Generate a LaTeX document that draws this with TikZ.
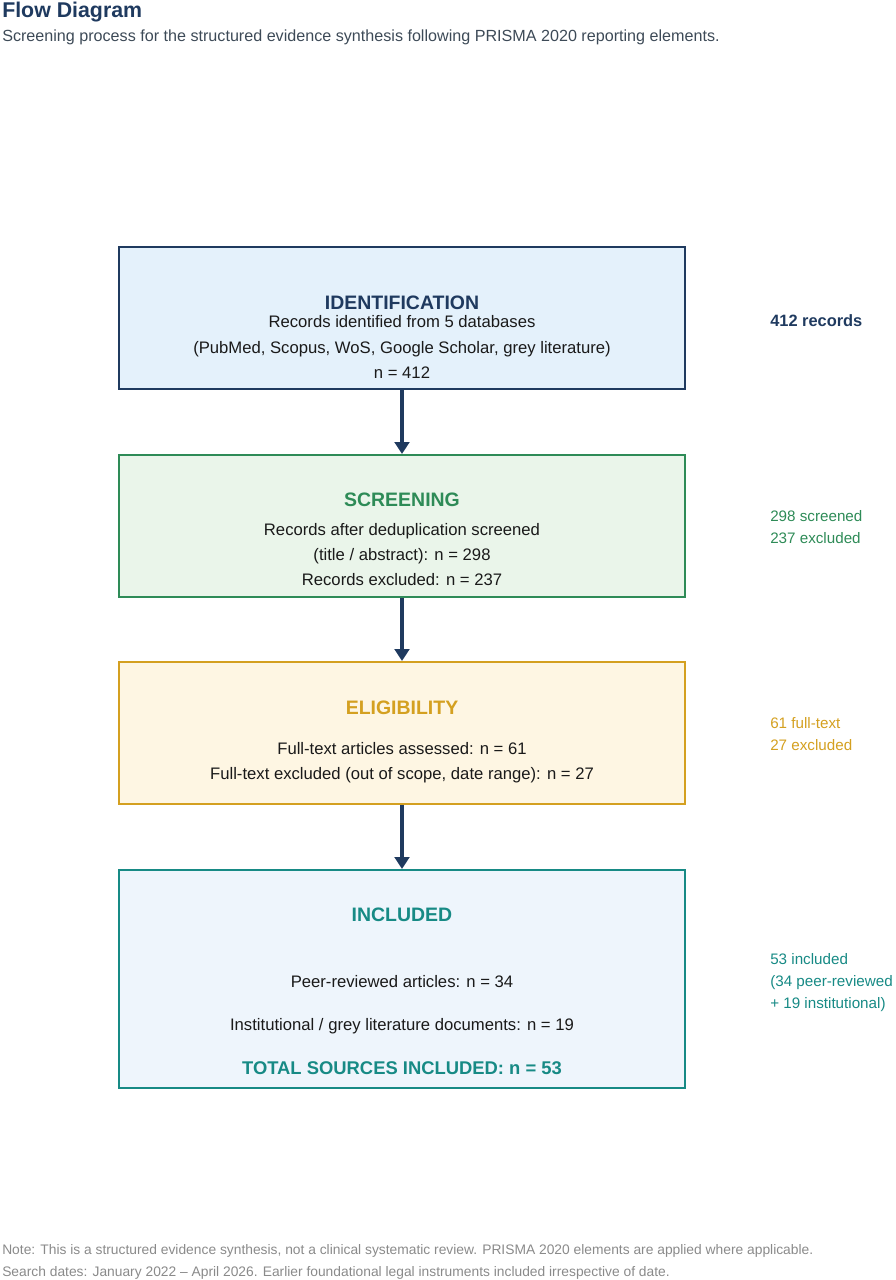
\documentclass[tikz,border=0pt]{standalone}
\usepackage{fontspec}
\setmainfont{Liberation Sans}
\usetikzlibrary{arrows.meta}
\definecolor{navy}{HTML}{1F3A5F}
\definecolor{identfill}{HTML}{E4F1FB}
\definecolor{screengreen}{HTML}{2E8B57}
\definecolor{screenfill}{HTML}{EAF5EA}
\definecolor{eliggold}{HTML}{D4A020}
\definecolor{eligfill}{HTML}{FEF6E3}
\definecolor{inclteal}{HTML}{178A85}
\definecolor{inclfill}{HTML}{EEF5FC}
\definecolor{bodytext}{HTML}{1A1A1A}
\definecolor{subtext}{HTML}{3D4A57}
\definecolor{notetext}{HTML}{8A8A8A}
\begin{document}
\begin{tikzpicture}[x=0.75pt,y=-0.75pt,
    stagebox/.style={draw, line width=1.5pt, minimum width=424.5pt, minimum height=106.5pt, inner sep=0pt},
    head/.style={anchor=base, inner sep=0pt, font=\fontsize{14.6}{17}\selectfont\bfseries},
    body/.style={anchor=base, inner sep=0pt, text=bodytext, font=\fontsize{12.5}{15}\selectfont},
    side/.style={anchor=base west, inner sep=0pt, font=\fontsize{11.4}{14}\selectfont},
    note/.style={anchor=base west, inner sep=0pt, text=notetext, font=\fontsize{10.36}{12}\selectfont},
    flow/.style={draw=navy, line width=2.7pt, -{Triangle[width=11pt,length=9pt]}}]
    \useasboundingbox (0,0) rectangle (895,1280);

    % title
    \node[anchor=base west, inner sep=0pt, text=navy, font=\fontsize{16}{19}\selectfont\bfseries] (title) at (2,18) {Flow Diagram};
    \node[anchor=base west, inner sep=0pt, text=subtext, font=\fontsize{12.1}{14}\selectfont] (subtitle) at (2,42) {Screening process for the structured evidence synthesis following PRISMA 2020 reporting elements.};

    % stages
    \node[stagebox, draw=navy, fill=identfill] (ident) at (402,318) {};
    \node[stagebox, draw=screengreen, fill=screenfill] (screen) at (402,526) {};
    \node[stagebox, draw=eliggold, fill=eligfill] (elig) at (402,733) {};
    \node[stagebox, draw=inclteal, fill=inclfill, minimum height=163.5pt] (incl) at (402,979) {};

    \node[head, text=navy] (identhead) at (402,309) {IDENTIFICATION};
    \node[body] (ident1) at (402,327) {Records identified from 5 databases};
    \node[body] (ident2) at (402,353) {(PubMed, Scopus, WoS, Google Scholar, grey literature)};
    \node[body] (ident3) at (402,378) {n = 412};

    \node[head, text=screengreen] (screenhead) at (402,506) {SCREENING};
    \node[body] (screen1) at (402,535) {Records after deduplication screened};
    \node[body] (screen2) at (402,560) {(title / abstract): n = 298};
    \node[body] (screen3) at (402,585) {Records excluded: n = 237};

    \node[head, text=eliggold] (elighead) at (402,714) {ELIGIBILITY};
    \node[body] (elig1) at (402,754) {Full-text articles assessed: n = 61};
    \node[body] (elig2) at (402,779) {Full-text excluded (out of scope, date range): n = 27};

    \node[head, text=inclteal] (inclhead) at (402,921) {INCLUDED};
    \node[body] (incl1) at (402,987) {Peer-reviewed articles: n = 34};
    \node[body] (incl2) at (402,1030) {Institutional / grey literature documents: n = 19};
    \node[head, text=inclteal, font=\fontsize{13.8}{16}\selectfont\bfseries] (incltotal) at (402,1074) {TOTAL SOURCES INCLUDED: n = 53};

    % side counts
    \node[side, text=navy, font=\fontsize{12.3}{14}\selectfont\bfseries] (identside) at (770,326) {412 records};
    \node[side, text=screengreen] (screenside1) at (770,521) {298 screened};
    \node[side, text=screengreen] (screenside2) at (770,543) {237 excluded};
    \node[side, text=eliggold] (eligside1) at (770,728) {61 full-text};
    \node[side, text=eliggold] (eligside2) at (770,750) {27 excluded};
    \node[side, text=inclteal] (inclside1) at (770,964) {53 included};
    \node[side, text=inclteal] (inclside2) at (770,986) {(34 peer-reviewed};
    \node[side, text=inclteal] (inclside3) at (770,1008) {+ 19 institutional)};

    \draw[flow] (ident) -- (screen);
    \draw[flow] (screen) -- (elig);
    \draw[flow] (elig) -- (incl);

    % footnote
    \node[note] (note1) at (2,1254) {Note: This is a structured evidence synthesis, not a clinical systematic review. PRISMA 2020 elements are applied where applicable.};
    \node[note] (note2) at (2,1276) {Search dates: January 2022 -- April 2026. Earlier foundational legal instruments included irrespective of date.};
  \end{tikzpicture}
\end{document}
